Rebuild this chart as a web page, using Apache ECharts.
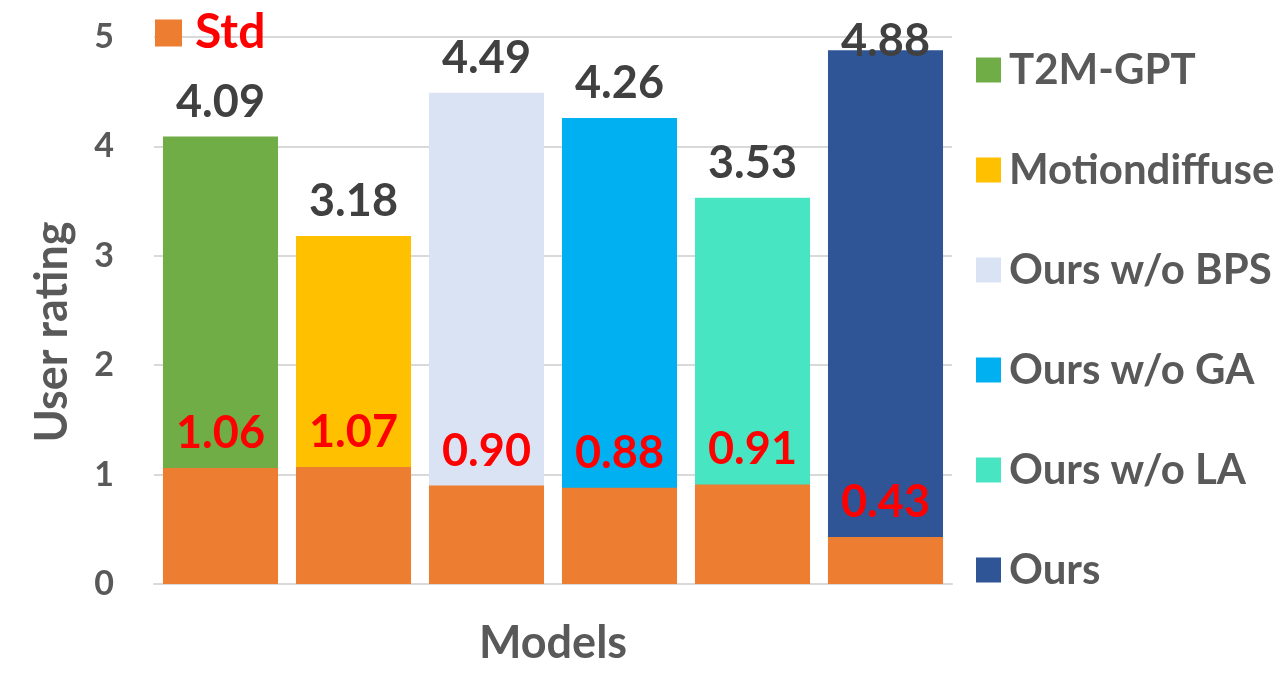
<!DOCTYPE html>
<html>
<head>
<meta charset="utf-8">
<script src="https://cdn.jsdelivr.net/npm/echarts@6/dist/echarts.min.js"></script>
<style>
  html, body { margin: 0; padding: 0; background: #fff; }
  #main { width: 1280px; height: 676px; }
</style>
</head>
<body>
<div id="main"></div>
<script>
// data
var models = ['T2M-GPT', 'Motiondiffuse', 'Ours w/o BPS', 'Ours w/o GA', 'Ours w/o LA', 'Ours'];
var ratings = [4.09, 3.18, 4.49, 4.26, 3.53, 4.88];
var stds = [1.06, 1.07, 0.90, 0.88, 0.91, 0.43];
var yTicks = [0, 1, 2, 3, 4, 5];

var colors = ['#70AD47', '#FFC000', '#DAE3F3', '#00B0F0', '#48E5C2', '#2F5597'];
var stdColor = '#ED7D31';
var font = 'Lato';

var myChart = echarts.init(document.getElementById('main'));

var series = [];
models.forEach(function (name, i) {
    var data = models.map(function (m, j) {
        if (j !== i) return '-';
        // tallest bar: label pushed down so it stays inside the chart (as in the original)
        if (ratings[j] > 4.7) return { value: ratings[j], label: { offset: [0, 26] } };
        return ratings[j];
    });
    series.push({
        name: name,
        type: 'bar',
        stack: 'rating',
        barGap: '-100%',
        barCategoryGap: '13.5%',
        itemStyle: { color: colors[i] },
        label: {
            show: true,
            position: 'top',
            distance: 12,
            color: '#404040',
            fontFamily: font,
            fontWeight: 'bold',
            fontSize: 45,
            formatter: function (p) { return p.value.toFixed(2); }
        },
        data: data
    });
});
series.push({
    name: 'Std',
    type: 'bar',
    barGap: '-100%',
    barCategoryGap: '13.5%',
    z: 3,
    itemStyle: { color: stdColor },
    label: {
        show: true,
        position: 'top',
        distance: 12,
        color: '#FF0000',
        fontFamily: font,
        fontWeight: 'bold',
        fontSize: 45,
        formatter: function (p) { return p.value.toFixed(2); }
    },
    data: stds
});

var option = {
    animation: false,
    backgroundColor: '#fff',
    grid: { left: 154, right: 328, top: 37, bottom: 92, outerBoundsMode: 'none', containLabel: false },
    legend: [
        {
            data: models,
            orient: 'vertical',
            left: 971,
            top: 44,
            itemWidth: 25,
            itemHeight: 25,
            itemGap: 58,
            icon: 'rect',
            textStyle: {
                color: '#595959',
                fontFamily: font,
                fontWeight: 'bold',
                fontSize: 42,
                lineHeight: 42,
                padding: [0, 0, 0, 3]
            }
        },
        {
            data: ['Std'],
            left: 150,
            top: 4,
            itemWidth: 27,
            itemHeight: 27,
            icon: 'rect',
            itemGap: 10,
            textStyle: {
                color: '#FF0000',
                fontFamily: font,
                fontWeight: 'bold',
                fontSize: 48,
                lineHeight: 48,
                padding: [0, 0, 0, 8]
            }
        }
    ],
    xAxis: {
        type: 'category',
        data: models,
        name: 'Models',
        nameLocation: 'middle',
        nameGap: 37,
        nameTextStyle: { color: '#595959', fontFamily: font, fontWeight: 'bold', fontSize: 45 },
        axisLine: { lineStyle: { color: '#D9D9D9', width: 2 } },
        axisTick: { show: false },
        axisLabel: { show: false }
    },
    yAxis: {
        type: 'value',
        min: yTicks[0],
        max: yTicks[yTicks.length - 1],
        interval: 1,
        axisLine: { show: false },
        axisTick: { show: false },
        axisLabel: {
            margin: 40,
            color: '#595959',
            fontFamily: font,
            fontWeight: 'bold',
            fontSize: 34
        },
        splitLine: { lineStyle: { color: '#D9D9D9', width: 2 } }
    },
    graphic: [
        {
            type: 'text',
            x: 52,
            y: 332,
            rotation: Math.PI / 2,
            style: {
                text: 'User rating',
                fill: '#595959',
                font: 'bold 45px Lato',
                align: 'center',
                verticalAlign: 'middle'
            }
        }
    ],
    series: series
};
myChart.setOption(option);
</script>
</body>
</html>
